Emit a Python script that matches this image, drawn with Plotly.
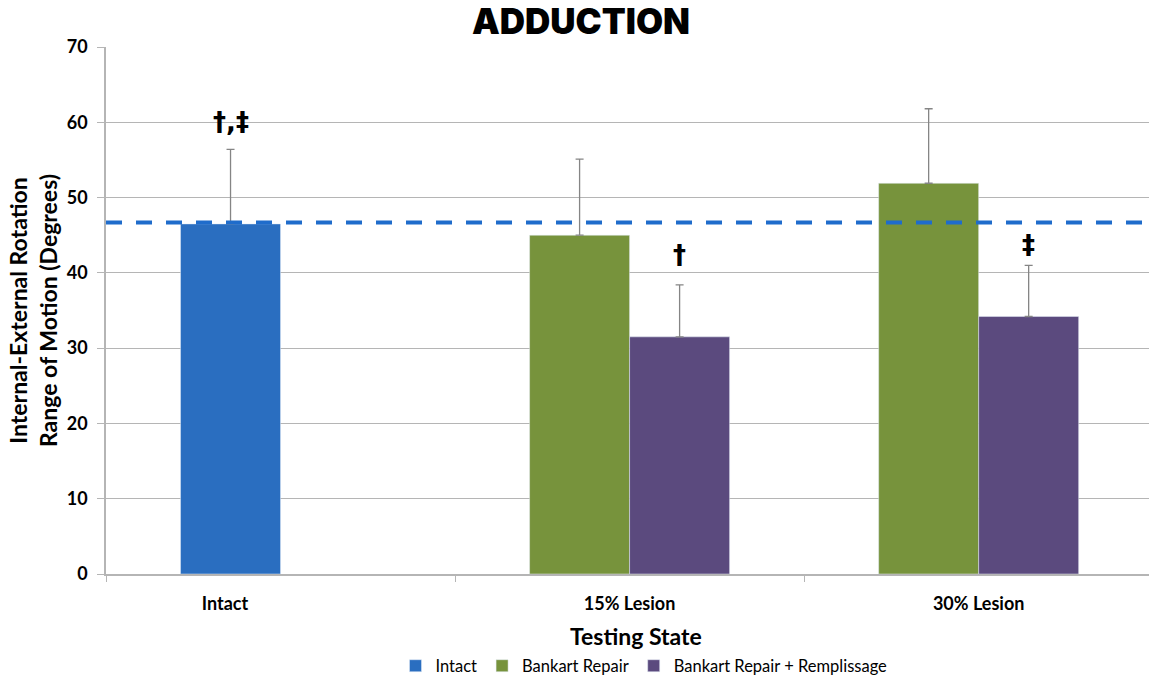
import plotly.graph_objects as go

# Testing states and series values (degrees of internal-external rotation ROM)
categories = ["Intact", "15% Lesion", "30% Lesion"]

intact_x = ["Intact"]
intact_mean = [46.5]
intact_sd = [9.9]

bankart_x = ["15% Lesion", "30% Lesion"]
bankart_mean = [45.0, 51.9]
bankart_sd = [10.1, 9.9]

rempl_x = ["15% Lesion", "30% Lesion"]
rempl_mean = [31.5, 34.2]
rempl_sd = [6.9, 6.8]

intact_reference = 46.7

y_ticks = [0, 10, 20, 30, 40, 50, 60, 70]

BLUE = "#2A6EC0"
GREEN = "#77933C"
PURPLE = "#5B4A7E"
GRID = "#B5B5B5"
ERR = "#858585"
TXT = "Lato, 'Open Sans', sans-serif"


def err(vals):
    return dict(type="data", array=vals, arrayminus=[0] * len(vals), symmetric=False,
                color=ERR, thickness=1.3, width=4)


fig = go.Figure()
fig.add_trace(go.Bar(name="Intact", x=intact_x, y=intact_mean, marker_color=BLUE,
                     offsetgroup="a", error_y=err(intact_sd)))
fig.add_trace(go.Bar(name="Bankart Repair", x=bankart_x, y=bankart_mean, marker_color=GREEN,
                     offsetgroup="a", error_y=err(bankart_sd)))
fig.add_trace(go.Bar(name="Bankart Repair + Remplissage", x=rempl_x, y=rempl_mean,
                     marker_color=PURPLE, offsetgroup="b", error_y=err(rempl_sd)))

# dashed reference at the intact mean
fig.add_shape(type="line", xref="paper", x0=0, x1=1, yref="y",
              y0=intact_reference, y1=intact_reference,
              line=dict(color="#1F6CCB", width=4, dash="16px,14px"), layer="above")

# significance markers
marks = [("Intact", -50, 60.0, "†,‡"), ("15% Lesion", 50, 42.4, "†"), ("30% Lesion", 50, 43.7, "‡")]
for cat, shift, yv, txt in marks:
    fig.add_annotation(x=cat, y=yv, xshift=shift, text=txt, showarrow=False,
                       font=dict(family="DejaVu Sans", size=26, color="black", weight="bold"),
                       yanchor="middle")

# x-axis title
fig.add_annotation(x=(636 - 106) / 1043, y=(574 - 636) / 527, xref="paper", yref="paper",
                   text="Testing State", showarrow=False, yanchor="middle",
                   font=dict(family=TXT, size=23, color="black", weight="bold"))

fig.update_layout(
    width=1149, height=680,
    margin=dict(l=106, r=0, t=47, b=106, autoexpand=False),
    paper_bgcolor="white", plot_bgcolor="white",
    barmode="group", bargap=0.427, bargroupgap=0,
    title=dict(text="ADDUCTION", x=581 / 1149, xanchor="center", y=1 - 22 / 680,
               yanchor="middle",
               font=dict(family="Inter, 'Liberation Sans', sans-serif", size=35,
                         color="black", weight=900)),
    showlegend=True,
    legend=dict(orientation="h", x=(644 - 106) / 1043, xanchor="center",
                y=(574 - 666) / 527, yanchor="middle",
                font=dict(family=TXT, size=16.5, color="black"),
                itemwidth=30, traceorder="normal"),
    xaxis=dict(type="category", categoryorder="array", categoryarray=categories,
               range=[-0.5, 2.488], showticklabels=False, tickson="boundaries",
               ticks="outside", ticklen=6, tickcolor=GRID, showline=True,
               linecolor=GRID, linewidth=1.5, showgrid=False, zeroline=False),
    xaxis2=dict(overlaying="x", side="bottom", range=[-0.5, 2.488], type="linear",
                tickmode="array", tickvals=[-0.159, 1, 2], ticktext=categories,
                ticks="", showgrid=False, zeroline=False, showline=False,
                ticklabelstandoff=17,
                tickfont=dict(family=TXT, size=18, color="black", weight="bold")),
    yaxis=dict(range=[0, 70], tickmode="array", tickvals=y_ticks,
               showgrid=True, gridcolor=GRID, gridwidth=1.2,
               showline=True, linecolor=GRID, linewidth=1.5,
               ticks="outside", ticklen=7, tickcolor=GRID, zeroline=False,
               ticklabelstandoff=6,
               tickfont=dict(family=TXT, size=18, color="black", weight="bold"),
               title=dict(text="Internal-External Rotation<br>Range of Motion (Degrees)",
                          font=dict(family=TXT, size=23, color="black", weight="bold"),
                          standoff=3)),
)
fig.add_trace(go.Scatter(x=[None], y=[None], xaxis="x2", showlegend=False, hoverinfo="skip"))

fig.write_html("out.html")
